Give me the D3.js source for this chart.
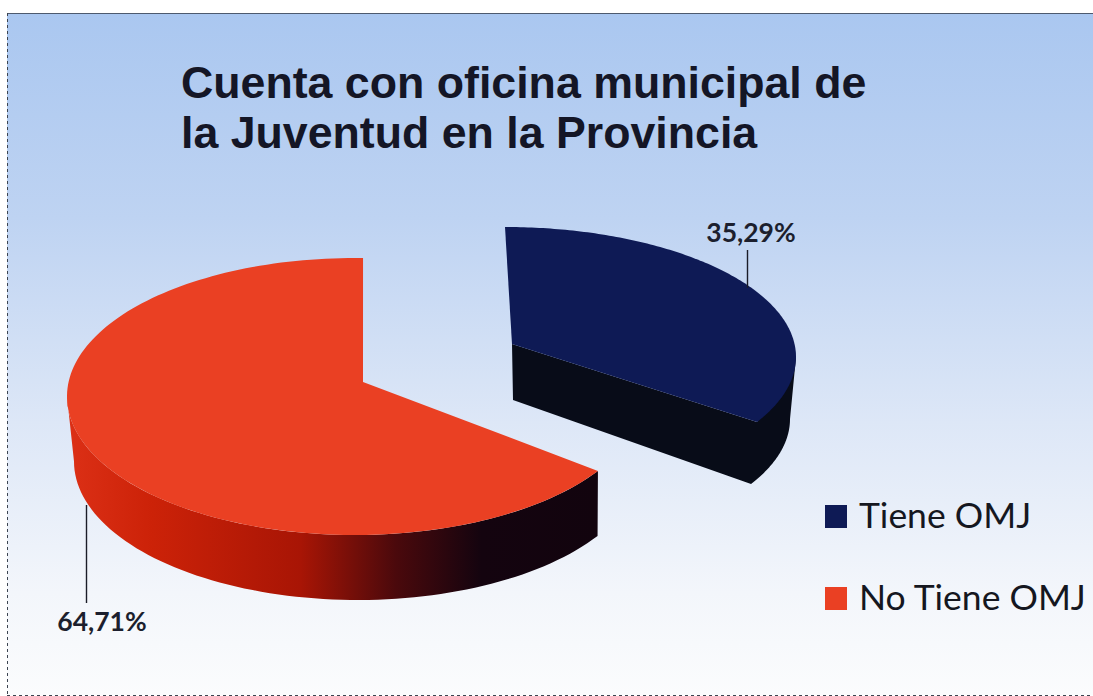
<!DOCTYPE html>
<html><head><meta charset="utf-8">
<script src="https://cdn.jsdelivr.net/npm/d3@7/dist/d3.min.js"></script>
<style>html,body{margin:0;padding:0;background:#fff;overflow:hidden}svg{display:block}</style>
</head><body><svg id="c" width="1093" height="696"></svg>
<script>
const titleLines = ["Cuenta con oficina municipal de", "la Juventud en la Provincia"];
const categories = ["Tiene OMJ", "No Tiene OMJ"];
const shares = [35.29, 64.71];
const shareLabels = ["35,29%", "64,71%"];
const topColors = ["#0e1a55", "#ea4023"];

const svg = d3.select("#c");
const deg = Math.PI / 180;
const defs = svg.append("defs");

const bg = defs.append("linearGradient").attr("id","bg").attr("x1",0).attr("y1",0).attr("x2",0).attr("y2",1);
[[0,"#aac7f0"],[0.3,"#bed3f2"],[0.6,"#dde7f7"],[0.85,"#f3f6fb"],[1,"#fbfcfd"]].forEach(s=>bg.append("stop").attr("offset",s[0]).attr("stop-color",s[1]));

const sideRed = defs.append("linearGradient").attr("id","sideRed").attr("gradientUnits","userSpaceOnUse")
  .attr("x1",67).attr("y1",0).attr("x2",598).attr("y2",0);
[[0,"#dc3016"],[0.16,"#cc2208"],[0.44,"#a81505"],[0.62,"#4a090c"],[0.78,"#14040f"],[1,"#12040e"]].forEach(s=>sideRed.append("stop").attr("offset",s[0]).attr("stop-color",s[1]));

svg.append("rect").attr("x",7).attr("y",13).attr("width",1086).attr("height",682).attr("fill","url(#bg)");
svg.append("line").attr("x1",7).attr("x2",1093).attr("y1",13.5).attr("y2",13.5).attr("stroke","#4d5a6e").attr("stroke-width",1);
svg.append("line").attr("x1",7.5).attr("x2",7.5).attr("y1",13).attr("y2",695).attr("stroke","#3c4450").attr("stroke-width",1).attr("stroke-dasharray","3 3");
svg.append("line").attr("x1",7).attr("x2",1093).attr("y1",695.5).attr("y2",695.5).attr("stroke","#3c4450").attr("stroke-width",1).attr("stroke-dasharray","3 3");

svg.selectAll("text.title").data(titleLines).join("text").attr("class","title")
  .attr("x",181).attr("y",(d,i)=>98+i*50)
  .attr("font-family","'Liberation Sans',Arial,sans-serif").attr("font-weight",700).attr("font-size",44.7)
  .attr("fill","#141626").text(d=>d);

const arcs = d3.pie().sort(null)(shares);
const geom = [
  {vertex:[512,344], c:[505,357], r:[291,130], wall:{dx:-6,dy:62,dr:0}, vdrop:[1,56]},
  {vertex:[363,382], c:[355,396.5], r:[288,138.5], wall:{dx:3,dy:65,dr:-4}}
];
// pie angle -> drawn ellipse angle
const warpBlue = d3.scaleLinear().domain([0,127.06]).range([0,120]);
const warpRed = d3.scaleLinear().domain([127.06,360]).range([122.5,361.6]);
const warps = [warpBlue, warpRed];
const rim = (g,a)=>[g.c[0]+g.r[0]*Math.sin(a*deg), g.c[1]-g.r[1]*Math.cos(a*deg)];
const low = (g,a)=>[g.c[0]+g.wall.dx+(g.r[0]+g.wall.dr)*Math.sin(a*deg), g.c[1]+g.wall.dy-g.r[1]*Math.cos(a*deg)];
const line = d3.line();
const span = (a,b,n=80)=>d3.range(n+1).map(i=>a+(b-a)*i/n);

// side walls
{
  const g = geom[1], e = warps[1](arcs[1].startAngle/deg);
  const pts = span(270,e).map(a=>rim(g,a)).concat(span(e,270).map(a=>low(g,a)));
  svg.append("path").attr("d",line(pts)+"Z").attr("fill","url(#sideRed)");
}
{
  const g = geom[0], e = warps[0](arcs[0].endAngle/deg);
  const pts = [rim(g,90)].concat(span(90,e).map(a=>low(g,a)),
    [[g.vertex[0]+g.vdrop[0],g.vertex[1]+g.vdrop[1]], g.vertex, rim(g,e)]);
  svg.append("path").attr("d",line(pts)+"Z").attr("fill","#080c18");
}
// top faces
arcs.forEach((d,i)=>{
  const g = geom[i], w = warps[i];
  const pts = [g.vertex].concat(span(w(d.startAngle/deg), w(d.endAngle/deg), 160).map(a=>rim(g,a)));
  svg.append("path").attr("d",line(pts)+"Z").attr("fill",topColors[i]);
});

// leader lines and value labels
const leaders = [[747,250,288],[86,505,603]];
const labelPos = [[751,242],[102,631]];
svg.selectAll("line.leader").data(leaders).join("line").attr("class","leader")
  .attr("x1",d=>d[0]+.5).attr("x2",d=>d[0]+.5).attr("y1",d=>d[1]).attr("y2",d=>d[2])
  .attr("stroke","#1a1c28").attr("stroke-width",1.4);
svg.selectAll("text.val").data(shareLabels).join("text").attr("class","val")
  .attr("x",(d,i)=>labelPos[i][0]).attr("y",(d,i)=>labelPos[i][1]).attr("text-anchor","middle")
  .attr("font-family","Lato,sans-serif").attr("font-weight",700).attr("font-size",26.5)
  .attr("fill","#1c1f2e").text(d=>d);

// legend
const legendY = [528,610];
svg.selectAll("rect.key").data(categories).join("rect").attr("class","key")
  .attr("x",825).attr("y",(d,i)=>legendY[i]-23).attr("width",22).attr("height",23)
  .attr("fill",(d,i)=>topColors[i]);
svg.selectAll("text.key").data(categories).join("text").attr("class","key")
  .attr("x",859).attr("y",(d,i)=>legendY[i])
  .attr("font-family","Lato,sans-serif").attr("font-size",35.5)
  .attr("fill","#15171f").text(d=>d);
</script></body></html>
